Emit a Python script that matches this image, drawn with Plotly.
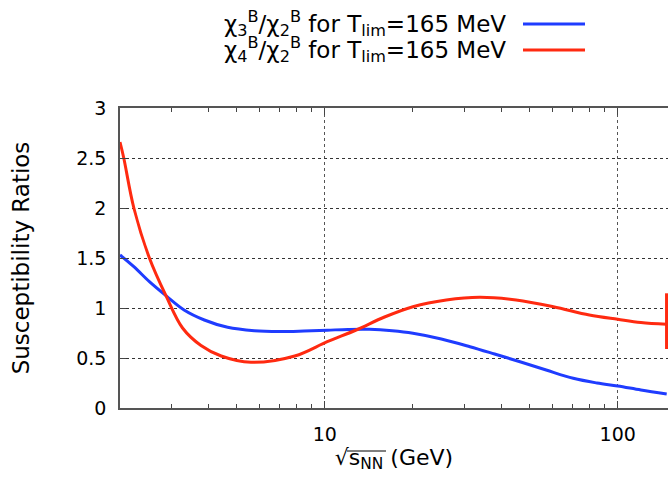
import plotly.graph_objects as go
import numpy as np

# Data
blue_x = [2.0, 2.23, 2.52, 2.87, 3.31, 3.88, 4.66, 5.75, 7.0, 8.5, 10.2, 12.0, 14.2, 17.0, 20.0, 25.0, 31.3, 38.0, 46.4, 57.0, 70.5, 85.0, 100.0, 120.0, 147.0]
blue_y = [1.53, 1.413, 1.263, 1.123, 0.98, 0.88, 0.807, 0.773, 0.765, 0.77, 0.778, 0.786, 0.787, 0.772, 0.747, 0.69, 0.613, 0.54, 0.463, 0.38, 0.297, 0.25, 0.22, 0.18, 0.14]

red_x = [2.0, 2.06, 2.23, 2.52, 2.87, 3.27, 3.78, 4.43, 5.6, 7.9, 10.2, 12.8, 16.0, 20.0, 26.0, 33.8, 45.0, 60.3, 80.0, 100.0, 120.0, 146.8]
red_y = [2.66, 2.5, 2.0, 1.5, 1.123, 0.8, 0.625, 0.52, 0.457, 0.52, 0.663, 0.78, 0.91, 1.013, 1.08, 1.107, 1.08, 1.013, 0.93, 0.887, 0.855, 0.837]

err_x = [146.8, 146.8]
err_y = [0.59, 1.147]

legend_labels = [
    "χ<sub>3</sub><sup>B</sup>/χ<sub>2</sub><sup>B</sup> for T<sub>lim</sub>=165 MeV",
    "χ<sub>4</sub><sup>B</sup>/χ<sub>2</sub><sup>B</sup> for T<sub>lim</sub>=165 MeV",
]
y_ticks = [0, 0.5, 1, 1.5, 2, 2.5, 3]
y_ticklabels = ["0", "0.5", "1", "1.5", "2", "2.5", "3"]
x_ticks = [10, 100]
x_ticklabels = ["10", "100"]

BLUE = "#1f3cff"
RED = "#ff2a10"
FONT = "DejaVu Sans"

fig = go.Figure()
fig.add_trace(go.Scatter(x=blue_x, y=blue_y, mode="lines",
                         line=dict(color=BLUE, width=3, shape="spline", smoothing=1.0),
                         showlegend=False, hoverinfo="skip"))
fig.add_trace(go.Scatter(x=red_x, y=red_y, mode="lines",
                         line=dict(color=RED, width=3, shape="spline", smoothing=1.0),
                         showlegend=False, hoverinfo="skip"))
fig.add_trace(go.Scatter(x=err_x, y=err_y, mode="lines",
                         line=dict(color=RED, width=3),
                         showlegend=False, hoverinfo="skip", cliponaxis=False))

fig.update_layout(
    width=668, height=482,
    margin=dict(l=120, r=0, t=108, b=74),
    paper_bgcolor="white", plot_bgcolor="white",
    font=dict(family=FONT, size=19, color="black"),
    showlegend=False,
)
fig.update_xaxes(
    type="log", range=[np.log10(2.0), np.log10(148.5)],
    tickvals=x_ticks, ticktext=x_ticklabels,
    ticks="inside", ticklen=7, tickcolor="#444",
    showline=True, linecolor="#555", linewidth=1.5, mirror="ticks",
    showgrid=True, gridcolor="#555", griddash="dot", gridwidth=1,
    minor=dict(ticks="inside", ticklen=4, tickcolor="#444", showgrid=False,
               tickvals=[3, 4, 5, 6, 7, 8, 9, 20, 30, 40, 50, 60, 70, 80, 90]),
    tickfont=dict(size=19), ticklabelstandoff=8,
    title=dict(text="√s<sub>NN</sub> (GeV)", font=dict(size=22), standoff=4),
    zeroline=False,
)
fig.update_yaxes(
    range=[0, 3], tickvals=y_ticks, ticktext=y_ticklabels,
    ticks="inside", ticklen=6, tickcolor="#444",
    showline=True, linecolor="#555", linewidth=1.5, mirror=False,
    showgrid=True, gridcolor="#333", griddash="dot", gridwidth=1,
    tickfont=dict(size=19), ticklabelstandoff=8,
    title=dict(text="Susceptibility Ratios", font=dict(size=23), standoff=40),
    zeroline=False,
)

# legend (text right, line sample to the right)
leg_y = [24, 50]
leg_colors = [BLUE, RED]
for lab, yy, c in zip(legend_labels, leg_y, leg_colors):
    fig.add_annotation(text=lab, xref="paper", yref="paper",
                       x=(508 - 120) / 548, y=1 + (108 - yy) / 300,
                       xanchor="right", yanchor="middle", showarrow=False,
                       font=dict(size=23, family=FONT))
    fig.add_shape(type="line", xref="paper", yref="paper",
                  x0=(523 - 120) / 548, x1=(585 - 120) / 548,
                  y0=1 + (108 - yy) / 300, y1=1 + (108 - yy) / 300,
                  line=dict(color=c, width=3))

# radical overline on the x-axis title
fig.add_shape(type="line", xref="paper", yref="paper",
              x0=(347 - 120) / 548, x1=(386 - 120) / 548,
              y0=-(451 - 408) / 300, y1=-(451 - 408) / 300,
              line=dict(color="black", width=1))

fig.write_html("out.html")
